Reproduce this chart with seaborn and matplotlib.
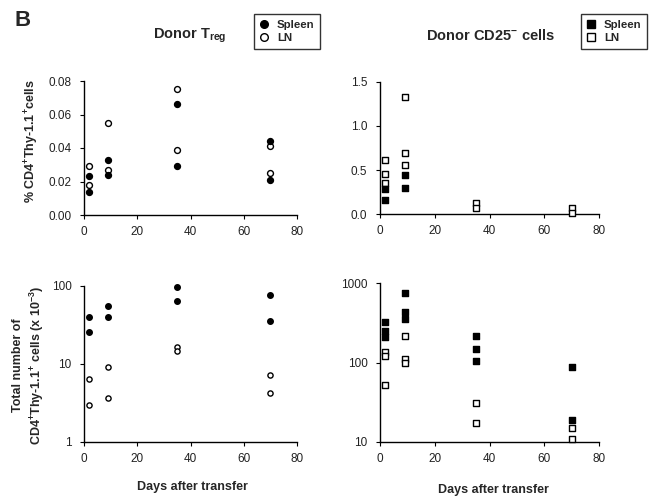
import matplotlib
matplotlib.use("Agg")
import matplotlib.pyplot as plt
import seaborn as sns
import pandas as pd
from matplotlib.lines import Line2D
from matplotlib.ticker import FixedLocator, FormatStrFormatter, NullLocator

sns.set_theme(style="ticks")
plt.rcParams['font.family'] = ['Liberation Sans', 'DejaVu Sans']
plt.rcParams['mathtext.fontset'] = 'custom'
plt.rcParams['mathtext.rm'] = 'Liberation Sans'
plt.rcParams['mathtext.bf'] = 'Liberation Sans:bold'
plt.rcParams['mathtext.it'] = 'Liberation Sans:italic'

# ---- data ----
days_treg = [2, 2, 9, 9, 35, 35, 70, 70]
treg_pct_spleen = [0.023, 0.014, 0.033, 0.024, 0.066, 0.029, 0.044, 0.021]
treg_pct_ln = [0.029, 0.018, 0.055, 0.027, 0.075, 0.039, 0.041, 0.025]
treg_num_spleen = [40, 26, 56, 40, 98, 65, 76, 36]
treg_num_ln = [6.4, 3.0, 9.2, 3.7, 16.4, 14.5, 7.2, 4.2]

cd25_pct_spleen_days = [2, 2, 9, 9]
cd25_pct_spleen = [0.29, 0.16, 0.45, 0.30]
cd25_pct_ln_days = [2, 2, 2, 9, 9, 9, 35, 35, 70, 70]
cd25_pct_ln = [0.61, 0.46, 0.35, 1.33, 0.69, 0.56, 0.13, 0.07, 0.07, 0.01]

cd25_num_spleen_days = [2, 2, 2, 9, 9, 9, 35, 35, 35, 70, 70]
cd25_num_spleen = [326, 253, 208, 762, 431, 355, 215, 149, 105, 88, 19]
cd25_num_ln_days = [2, 2, 2, 9, 9, 9, 35, 35, 70, 70]
cd25_num_ln = [136, 123, 52, 215, 110, 98, 31, 17.5, 14.9, 10.9]

x_ticks = [0, 20, 40, 60, 80]

W, H = 661, 501
fig = plt.figure(figsize=(W / 100, H / 100), dpi=100)

def px_axes(x0, x1, ytop, ybot):
    return fig.add_axes([x0 / W, 1 - ybot / H, (x1 - x0) / W, (ybot - ytop) / H])

ax_tl = px_axes(84, 297, 81, 215)
ax_tr = px_axes(380, 599, 81.7, 214.3)
ax_bl = px_axes(84, 297, 286, 442)
ax_br = px_axes(380, 599, 283.3, 442)

def scatter(ax, x, y, marker, filled, size=18):
    df = pd.DataFrame({"x": x, "y": y})
    sns.scatterplot(data=df, x="x", y="y", ax=ax, marker=marker,
                    s=size, facecolor="black" if filled else "white",
                    edgecolor="black", linewidth=1.0, zorder=3, clip_on=False)

scatter(ax_tl, days_treg, treg_pct_ln, "o", False, 18)
scatter(ax_tl, days_treg, treg_pct_spleen, "o", True, 18)
scatter(ax_tr, cd25_pct_ln_days, cd25_pct_ln, "s", False, 16)
scatter(ax_tr, cd25_pct_spleen_days, cd25_pct_spleen, "s", True, 18)
scatter(ax_bl, days_treg, treg_num_ln, "o", False, 14)
scatter(ax_bl, days_treg, treg_num_spleen, "o", True, 16)
scatter(ax_br, cd25_num_ln_days, cd25_num_ln, "s", False, 14)
scatter(ax_br, cd25_num_spleen_days, cd25_num_spleen, "s", True, 18)

for ax in (ax_tl, ax_tr, ax_bl, ax_br):
    ax.set_xlim(0, 80)
    ax.xaxis.set_major_locator(FixedLocator(x_ticks))
    ax.set_xlabel("")
    ax.set_ylabel("")
    for s in ("top", "right"):
        ax.spines[s].set_visible(False)
    for s in ("left", "bottom"):
        ax.spines[s].set_linewidth(1.0)
        ax.spines[s].set_color("black")
    ax.tick_params(direction="out", length=3, width=0.8, labelsize=8.5,
                   colors="black", labelcolor="#222222")
    ax.tick_params(axis="x", pad=5)
    ax.tick_params(axis="y", pad=6)

ax_tl.set_ylim(0, 0.08)
ax_tl.yaxis.set_major_locator(FixedLocator([0, 0.02, 0.04, 0.06, 0.08]))
ax_tl.yaxis.set_major_formatter(FormatStrFormatter("%.2f"))

ax_tr.set_ylim(0, 1.5)
ax_tr.yaxis.set_major_locator(FixedLocator([0, 0.5, 1.0, 1.5]))
ax_tr.yaxis.set_major_formatter(FormatStrFormatter("%.1f"))

ax_bl.set_yscale("log")
ax_bl.set_ylim(1, 100)
ax_bl.yaxis.set_major_locator(FixedLocator([1, 10, 100]))
ax_bl.yaxis.set_major_formatter(FormatStrFormatter("%g"))
ax_bl.yaxis.set_minor_locator(NullLocator())

ax_br.set_yscale("log")
ax_br.set_ylim(10, 1000)
ax_br.yaxis.set_major_locator(FixedLocator([10, 100, 1000]))
ax_br.yaxis.set_major_formatter(FormatStrFormatter("%g"))
ax_br.yaxis.set_minor_locator(NullLocator())

# ---- texts ----
fig.text(14 / W, 1 - 20 / H, "B", fontsize=16, fontweight="bold", va="center", ha="left")
fig.text(190 / W, 1 - 36 / H, r"Donor T$_\mathbf{reg}$", fontsize=10.5, fontweight="bold",
         ha="center", va="center")
fig.text(491 / W, 1 - 35 / H, r"Donor CD25$^\mathbf{-}$ cells", fontsize=10.5, fontweight="bold",
         ha="center", va="center")
fig.text(32 / W, 1 - 141 / H, r"% CD4$^\mathbf{+}$Thy-1.1$^\mathbf{+}$cells", fontsize=9,
         fontweight="bold", rotation=90, ha="center", va="center")
fig.text(29 / W, 1 - 365 / H,
         "Total number of\n" + r"CD4$^\mathbf{+}$Thy-1.1$^\mathbf{+}$ cells (x 10$^\mathbf{-3}$)",
         fontsize=9, fontweight="bold", rotation=90, ha="center", va="center",
         multialignment="center", linespacing=1.3)
fig.text(192 / W, 1 - 487 / H, "Days after transfer", fontsize=9, fontweight="bold",
         ha="center", va="center")
fig.text(493 / W, 1 - 490 / H, "Days after transfer", fontsize=9, fontweight="bold",
         ha="center", va="center")

# ---- legends ----
def add_legend(marker, x0, y0):
    handles = [
        Line2D([], [], linestyle="none", marker=marker, markersize=5.5,
               markerfacecolor="black", markeredgecolor="black", label="Spleen"),
        Line2D([], [], linestyle="none", marker=marker, markersize=5.5,
               markerfacecolor="white", markeredgecolor="black", label="LN"),
    ]
    leg = fig.legend(handles=handles, loc="upper left", bbox_to_anchor=(x0 / W, 1 - y0 / H),
                     frameon=True, fancybox=False, prop={"weight": "bold", "size": 8.2},
                     handlelength=0.8, handletextpad=0.7, borderpad=0.5, labelspacing=0.3,
                     borderaxespad=0)
    leg.get_frame().set_edgecolor("black")
    leg.get_frame().set_linewidth(1.0)
    return leg

add_legend("o", 254, 14)
add_legend("s", 581, 14)

fig.savefig("out.png", dpi=100)
